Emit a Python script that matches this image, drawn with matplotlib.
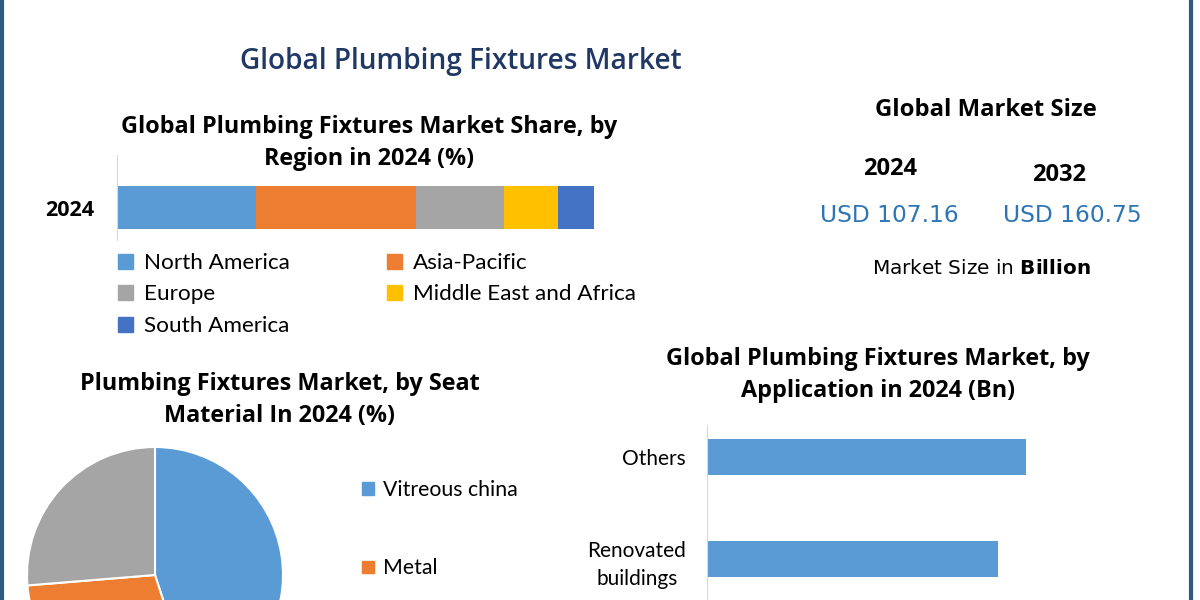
import matplotlib
matplotlib.use('Agg')
import matplotlib.pyplot as plt
from matplotlib.patches import Patch
from matplotlib.lines import Line2D

# ---- data ----
regions = ['North America', 'Asia-Pacific', 'Europe', 'Middle East and Africa', 'South America']
region_share = [29.2, 33.4, 18.6, 11.3, 7.5]
region_colors = ['#5B9BD5', '#ED7D31', '#A5A5A5', '#FFC000', '#4472C4']

materials = ['Vitreous china', 'Metal', 'Others']
material_share = [45.0, 28.7, 26.3]
material_colors = ['#5B9BD5', '#ED7D31', '#A5A5A5']

applications = ['Renovated\nbuildings', 'Others']
application_value = [29.1, 31.9]

size_years = ['2024', '2032']
size_values = ['USD 107.16', 'USD 160.75']

W, H = 1200, 600
fig = plt.figure(figsize=(12, 6), dpi=100)
fig.patch.set_facecolor('white')


def fx(x):
    return x / W


def fy(y):
    return 1 - y / H


def box(left, top, right, bottom):
    return [fx(left), fy(bottom), (right - left) / W, (bottom - top) / H]


TXT = 'Lato'
BOLD = 'Open Sans'
SUB = 16.8

# frame lines on left and right
fig.add_artist(Line2D([fx(1.5), fx(1.5)], [0, 1], color='#2E5A80', lw=3))
fig.add_artist(Line2D([fx(1190.5), fx(1190.5)], [0, 1], color='#2E5A80', lw=3))

# main title
fig.text(fx(461), fy(61), 'Global Plumbing Fixtures Market', ha='center', va='center',
         fontsize=20.2, color='#1F3864', family=BOLD, fontweight='semibold')

# ---- stacked bar by region ----
ax1 = fig.add_axes(box(117, 155, 594, 240))
left = 0
for name, val, c in zip(regions, region_share, region_colors):
    ax1.barh([0], [val], left=left, height=1.0, color=c, label=name)
    left += val
ax1.set_xlim(0, sum(region_share))
ax1.set_ylim(-(240 - 207.5) / 43, (207.5 - 155) / 43)
ax1.set_yticks([0])
ax1.set_yticklabels(['2024'], fontsize=15.5, fontweight='bold', family=BOLD)
ax1.tick_params(axis='y', length=0, pad=16)
ax1.set_xticks([])
for s in ['top', 'right', 'bottom']:
    ax1.spines[s].set_visible(False)
ax1.spines['left'].set_color('#D9D9D9')

fig.text(fx(369), fy(143), 'Global Plumbing Fixtures Market Share, by\nRegion in 2024 (%)',
         ha='center', va='center', fontsize=SUB, fontweight='bold', family=BOLD,
         linespacing=1.4)

# legend is filled column by column, so reorder to get the row layout
order = [0, 2, 4, 1, 3]
handles = [Patch(color=region_colors[i]) for i in order]
labels = [regions[i] for i in order]
fig.legend(handles, labels, ncol=2, loc='upper left', bbox_to_anchor=(fx(118), fy(253)),
           frameon=False, borderaxespad=0, borderpad=0, handlelength=0.65, handleheight=0.65,
           handletextpad=0.5, labelspacing=0.51, columnspacing=4.33,
           prop={'family': TXT, 'size': 16.2})

# ---- pie by seat material ----
ax2 = fig.add_axes(box(27, 447, 283, 703))
ax2.pie(material_share, colors=material_colors, startangle=90, counterclock=False,
        wedgeprops={'edgecolor': 'white', 'linewidth': 1.5})
ax2.set_xlim(-1, 1)
ax2.set_ylim(-1, 1)

fig.text(fx(280), fy(400), 'Plumbing Fixtures Market, by Seat\nMaterial In 2024 (%)',
         ha='center', va='center', fontsize=SUB, fontweight='bold', family=BOLD,
         linespacing=1.45)

pie_handles = [Patch(color=c) for c in material_colors[:2]]
fig.legend(pie_handles, materials[:2], loc='upper left', bbox_to_anchor=(fx(362), fy(480)),
           frameon=False, borderaxespad=0, borderpad=0, handlelength=0.55, handleheight=0.55,
           handletextpad=0.45, labelspacing=2.75, prop={'family': TXT, 'size': 15.3})

# ---- bars by application ----
ax3 = fig.add_axes(box(707, 425, 1150, 600))
ax3.barh(range(len(applications)), application_value, height=36 / 102, color='#5B9BD5')
ax3.set_xlim(0, 44.3)
ax3.set_ylim(-(600 - 559) / 102, 1 + (457 - 425) / 102)
ax3.set_yticks(range(len(applications)))
ax3.set_yticklabels(applications, fontsize=15, family=TXT, multialignment='center',
                    linespacing=1.5)
ax3.tick_params(axis='y', length=0, pad=15)
ax3.set_xticks([])
for s in ['top', 'right', 'bottom']:
    ax3.spines[s].set_visible(False)
ax3.spines['left'].set_color('#D9D9D9')

fig.text(fx(878), fy(375), 'Global Plumbing Fixtures Market, by\nApplication in 2024 (Bn)',
         ha='center', va='center', fontsize=SUB, fontweight='bold', family=BOLD,
         linespacing=1.45)

# ---- market size panel ----
fig.text(fx(986), fy(110), 'Global Market Size', ha='center', va='center',
         fontsize=17.2, fontweight='bold', family=BOLD)
fig.text(fx(890), fy(169), size_years[0], ha='center', va='center',
         fontsize=17, fontweight='bold', family=BOLD)
fig.text(fx(1059), fy(175), size_years[1], ha='center', va='center',
         fontsize=17, fontweight='bold', family=BOLD)
fig.text(fx(889), fy(215), size_values[0], ha='center', va='center',
         fontsize=16.8, color='#2E75B6', family='DejaVu Sans')
fig.text(fx(1072), fy(215), size_values[1], ha='center', va='center',
         fontsize=16.8, color='#2E75B6', family='DejaVu Sans')
fig.text(fx(981), fy(268), r'Market Size in $\bf{Billion}$', ha='center', va='center',
         fontsize=14.4, family='DejaVu Sans')

fig.savefig('out.png', dpi=100, facecolor='white')
